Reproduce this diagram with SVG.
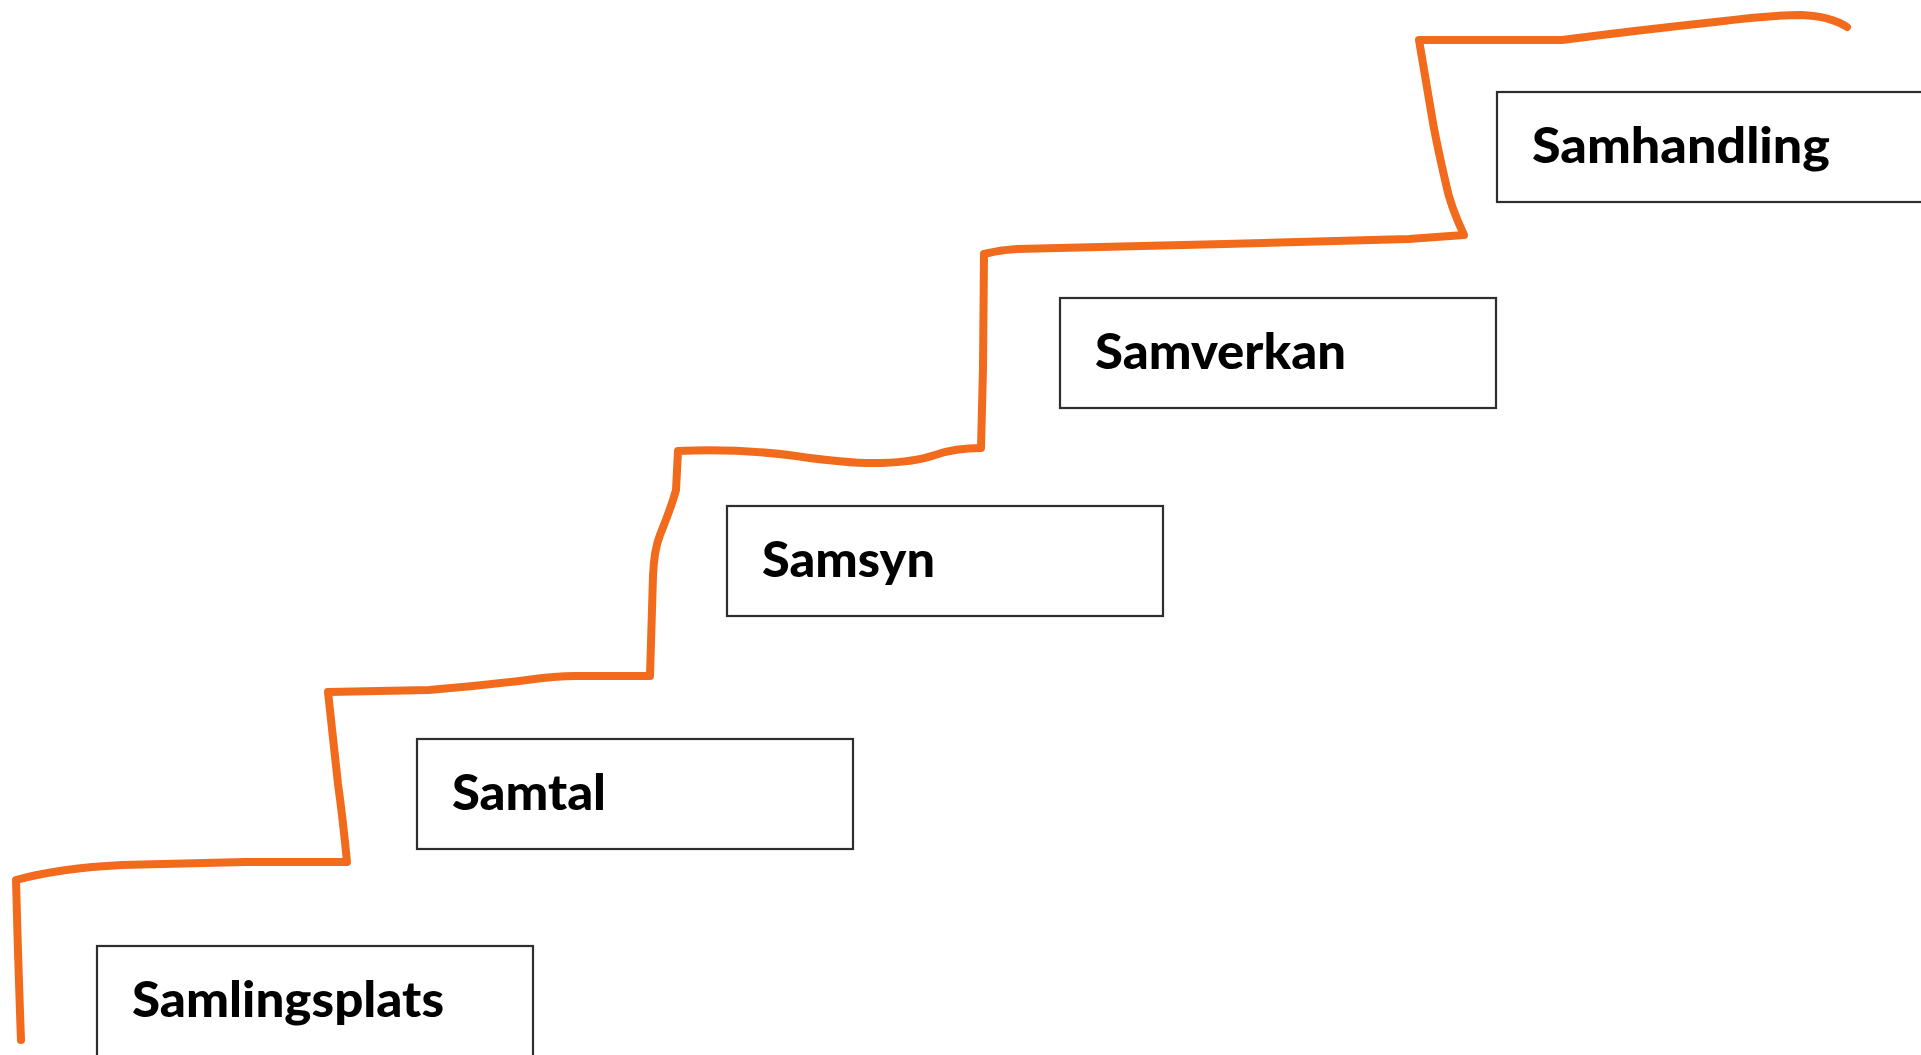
<svg xmlns="http://www.w3.org/2000/svg" width="1921" height="1055" viewBox="0 0 1921 1055">
<style>
.box{fill:#ffffff;stroke:#2e2e2e;stroke-width:2.2}
.lbl{font-family:Lato,"Open Sans","Liberation Sans",sans-serif;font-weight:900;font-size:49px;fill:#000000}
.stair{fill:none;stroke:#F26A1B;stroke-width:8;stroke-linecap:round;stroke-linejoin:round}
</style>
<rect width="1921" height="1055" fill="#ffffff"/>
<g id="connectors">
<path class="stair" d="M21,1040 Q18,960 16,880 Q60,868 122,865 L245,862 L347,862 Q343,820 338,784 L328,692 L429,690 Q480,686 527,680 Q555,676 576,676 L650,676 L653,576 Q654,550 660,535 Q672,505 676,490 L678,451 Q735,448 796,456 Q850,464 882,463 Q915,462 935,455 Q955,448 981,448 L983,368 L984,254 Q1000,250 1017,249 L1225,244 L1409,239 L1464,235 Q1450,205 1446,184 Q1438,150 1433,123 L1419,40 L1562,40 Q1640,30 1715,22 Q1770,15 1801,15 Q1830,16 1847,27"/>
</g>
<g id="node-samlingsplats">
<rect class="box" x="97" y="946" width="436" height="120"/>
<text class="lbl" x="132" y="1017" textLength="312" lengthAdjust="spacingAndGlyphs">Samlingsplats</text>
</g>
<g id="node-samtal">
<rect class="box" x="417" y="739" width="436" height="110"/>
<text class="lbl" x="452" y="810" textLength="154" lengthAdjust="spacingAndGlyphs">Samtal</text>
</g>
<g id="node-samsyn">
<rect class="box" x="727" y="506" width="436" height="110"/>
<text class="lbl" x="762" y="577" textLength="173" lengthAdjust="spacingAndGlyphs">Samsyn</text>
</g>
<g id="node-samverkan">
<rect class="box" x="1060" y="298" width="436" height="110"/>
<text class="lbl" x="1095" y="369" textLength="251" lengthAdjust="spacingAndGlyphs">Samverkan</text>
</g>
<g id="node-samhandling">
<rect class="box" x="1497" y="92" width="436" height="110"/>
<text class="lbl" x="1532" y="163" textLength="298" lengthAdjust="spacingAndGlyphs">Samhandling</text>
</g>
</svg>
